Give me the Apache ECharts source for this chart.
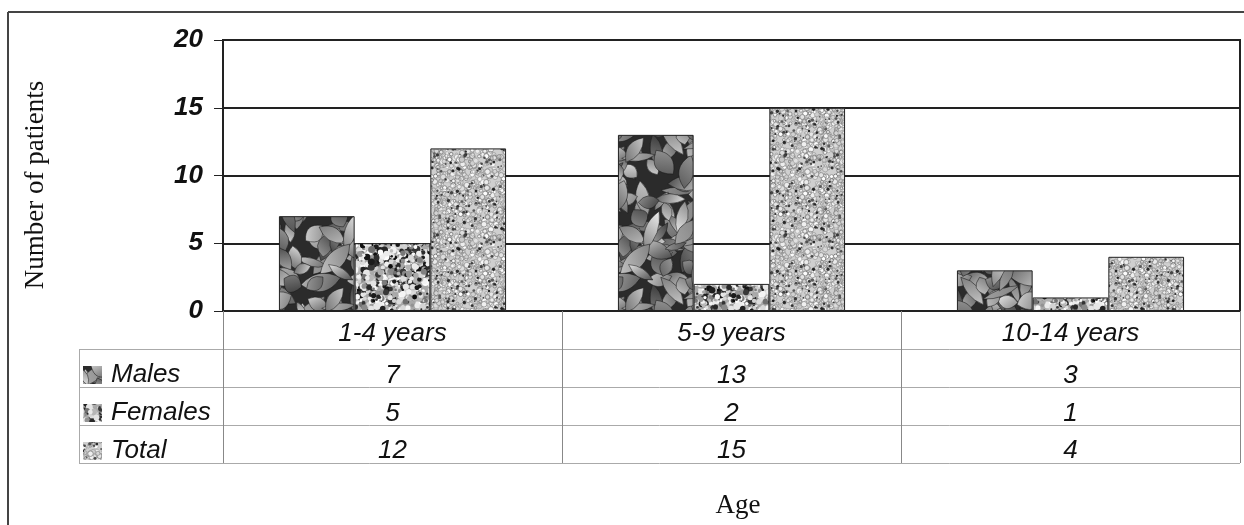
<!DOCTYPE html>
<html>
<head>
<meta charset="utf-8">
<script src="https://cdn.jsdelivr.net/npm/echarts@6/dist/echarts.min.js"></script>
<style>
html,body{margin:0;padding:0;background:#fff;}
#chart{width:1244px;height:525px;}
</style>
</head>
<body>
<div id="chart"></div>
<script>
// ---- data ----
const categories = ['1-4 years', '5-9 years', '10-14 years'];
const seriesNames = ['Males', 'Females', 'Total'];
const males = [7, 13, 3];
const females = [5, 2, 1];
const total = [12, 15, 4];
const yMin = 0, yMax = 20, yInterval = 5;

// ---- texture helpers (deterministic) ----
function prng(seed){
  return function(){
    seed |= 0; seed = seed + 0x6D2B79F5 | 0;
    let t = Math.imul(seed ^ seed >>> 15, 1 | seed);
    t = t + Math.imul(t ^ t >>> 7, 61 | t) ^ t;
    return ((t ^ t >>> 14) >>> 0) / 4294967296;
  };
}
function gray(v){ v = Math.max(0, Math.min(255, Math.round(v))); return 'rgb(' + v + ',' + v + ',' + v + ')'; }
function tiled(size, fn){
  for (const dx of [-size, 0, size]) for (const dy of [-size, 0, size]) fn(dx, dy);
}

function leafTexture(){
  const S = 150;
  const c = document.createElement('canvas'); c.width = S; c.height = S;
  const g = c.getContext('2d'); const r = prng(11);
  g.fillStyle = '#2b2b2b'; g.fillRect(0, 0, S, S);
  for (let i = 0; i < 150; i++) {
    const x = r() * S, y = r() * S, a = r() * Math.PI * 2;
    const L = 9 + r() * 12, W = 5 + r() * 8;
    const c1 = 50 + r() * 90, c2 = 140 + r() * 110;
    tiled(S, function(dx, dy){
      g.save(); g.translate(x + dx, y + dy); g.rotate(a);
      const grd = g.createLinearGradient(-L, -W, L, W);
      grd.addColorStop(0, gray(c1)); grd.addColorStop(1, gray(c2));
      g.beginPath(); g.moveTo(-L, 0);
      g.quadraticCurveTo(0, -W * 1.6, L, 0);
      g.quadraticCurveTo(0, W * 1.2, -L, 0);
      g.closePath();
      g.fillStyle = grd; g.fill();
      g.lineWidth = 0.8; g.strokeStyle = 'rgba(20,20,20,0.6)'; g.stroke();
      g.restore();
    });
  }
  return c;
}
function speckleTexture(){
  const S = 90;
  const c = document.createElement('canvas'); c.width = S; c.height = S;
  const g = c.getContext('2d'); const r = prng(23);
  g.fillStyle = '#a8a8a8'; g.fillRect(0, 0, S, S);
  for (let i = 0; i < 1100; i++) {
    const x = r() * S, y = r() * S, s = 1 + r() * 2.6;
    const v = r();
    const col = v < 0.25 ? gray(10 + r() * 50) : (v < 0.7 ? gray(205 + r() * 50) : gray(110 + r() * 80));
    tiled(S, function(dx, dy){
      g.fillStyle = col; g.beginPath(); g.arc(x + dx, y + dy, s, 0, Math.PI * 2); g.fill();
    });
  }
  return c;
}
function foamTexture(){
  const S = 80;
  const c = document.createElement('canvas'); c.width = S; c.height = S;
  const g = c.getContext('2d'); const r = prng(37);
  g.fillStyle = '#cfcfcf'; g.fillRect(0, 0, S, S);
  for (let i = 0; i < 650; i++) {
    const x = r() * S, y = r() * S, s = 1 + r() * 1.8;
    const col = gray(110 + r() * 70);
    const fill = gray(200 + r() * 55);
    tiled(S, function(dx, dy){
      g.beginPath(); g.arc(x + dx, y + dy, s, 0, Math.PI * 2);
      g.fillStyle = fill; g.fill();
      g.lineWidth = 0.8; g.strokeStyle = col; g.stroke();
    });
  }
  for (let i = 0; i < 120; i++) {
    const x = r() * S, y = r() * S, s = 0.7 + r() * 1.0;
    const col = gray(30 + r() * 70);
    tiled(S, function(dx, dy){
      g.fillStyle = col; g.beginPath(); g.arc(x + dx, y + dy, s, 0, Math.PI * 2); g.fill();
    });
  }
  return c;
}
const patterns = [
  { image: leafTexture(), repeat: 'repeat' },
  { image: speckleTexture(), repeat: 'repeat' },
  { image: foamTexture(), repeat: 'repeat' }
];
const values = [males, females, total];

const sans = '"Liberation Sans", Arial, sans-serif';
const serif = '"Liberation Serif", "Times New Roman", serif';
const ink = '#111';

function rowAxis(offset, arr){
  return {
    type: 'category', gridIndex: 0, position: 'bottom', offset: offset, data: categories,
    axisLine: { show: false }, axisTick: { show: false }, splitLine: { show: false },
    axisLabel: { margin: 10, fontSize: 26, fontStyle: 'italic', fontFamily: sans, color: ink,
      formatter: function(v, i){ return String(arr[i]); } }
  };
}

const chart = echarts.init(document.getElementById('chart'), null, { renderer: 'canvas' });
chart.setOption({
  animation: false,
  backgroundColor: '#fff',
  grid: { left: 223, right: 4, top: 40, bottom: 214, show: true, borderColor: '#222', borderWidth: 2, backgroundColor: 'transparent' },
  legend: {
    data: seriesNames, orient: 'vertical', left: 83, top: 362, itemGap: 12, padding: 0,
    itemWidth: 19, itemHeight: 18, icon: 'rect',
    itemStyle: { borderWidth: 0 },
    textStyle: { fontSize: 26, fontStyle: 'italic', fontFamily: sans, color: ink, padding: [0, 0, 0, 4] }
  },
  xAxis: [
    {
      type: 'category', data: categories, gridIndex: 0,
      axisLine: { lineStyle: { color: '#222', width: 2 } },
      axisTick: { show: true, length: 152, lineStyle: { color: '#888', width: 1 } },
      axisLabel: { margin: 10, fontSize: 26, fontStyle: 'italic', fontFamily: sans, color: ink }
    },
    rowAxis(42, males),
    rowAxis(80, females),
    rowAxis(117, total)
  ],
  yAxis: {
    type: 'value', min: yMin, max: yMax, interval: yInterval,
    axisLine: { show: true, lineStyle: { color: '#222', width: 2 } },
    axisTick: { show: true, length: 9, lineStyle: { color: '#222', width: 1 } },
    axisLabel: { margin: 20, fontSize: 26, fontWeight: 'bold', fontStyle: 'italic', fontFamily: sans, color: ink },
    splitLine: { lineStyle: { color: '#222', width: 2 } }
  },
  series: seriesNames.map(function(name, k){
    return {
      name: name, type: 'bar', xAxisIndex: 0, data: values[k],
      barGap: '0%', barCategoryGap: '33%',
      itemStyle: { color: patterns[k], borderColor: '#222', borderWidth: 1 }
    };
  }),
  graphic: [
    { type: 'line', shape: { x1: 8, y1: 12, x2: 1244, y2: 12 }, style: { stroke: '#444', lineWidth: 2 } },
    { type: 'line', shape: { x1: 8, y1: 12, x2: 8, y2: 525 }, style: { stroke: '#444', lineWidth: 2 } },
    { type: 'line', shape: { x1: 79, y1: 349.5, x2: 1240, y2: 349.5 }, style: { stroke: '#aaa', lineWidth: 1 } },
    { type: 'line', shape: { x1: 79, y1: 387.5, x2: 1240, y2: 387.5 }, style: { stroke: '#aaa', lineWidth: 1 } },
    { type: 'line', shape: { x1: 79, y1: 425.5, x2: 1240, y2: 425.5 }, style: { stroke: '#aaa', lineWidth: 1 } },
    { type: 'line', shape: { x1: 79, y1: 463.5, x2: 1240, y2: 463.5 }, style: { stroke: '#aaa', lineWidth: 1 } },
    { type: 'line', shape: { x1: 79.5, y1: 349, x2: 79.5, y2: 464 }, style: { stroke: '#aaa', lineWidth: 1 } },
    { type: 'text', x: 36, y: 185, rotation: Math.PI / 2,
      style: { text: 'Number of patients', font: '27px ' + serif, fill: ink, textAlign: 'center', textVerticalAlign: 'middle' } },
    { type: 'text', x: 738, y: 506,
      style: { text: 'Age', font: '27px ' + serif, fill: ink, textAlign: 'center', textVerticalAlign: 'middle' } }
  ]
});
</script>
</body>
</html>
